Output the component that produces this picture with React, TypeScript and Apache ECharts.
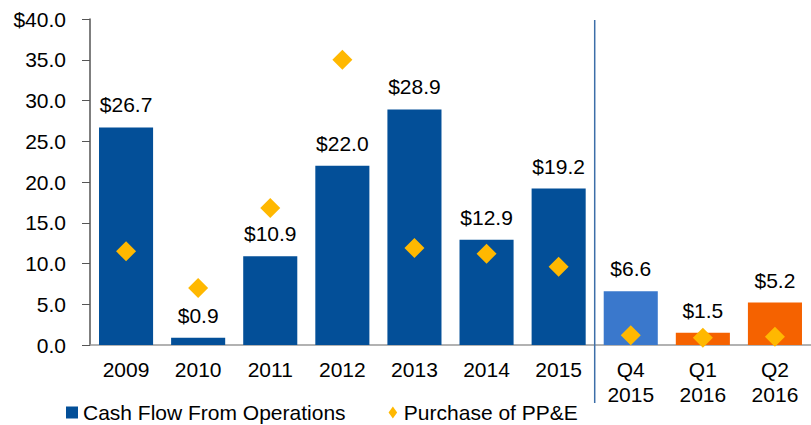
import React, { useEffect, useRef } from "react";
import * as echarts from "echarts";

const categories = ["2009", "2010", "2011", "2012", "2013", "2014", "2015", "Q4\n2015", "Q1\n2016", "Q2\n2016"];
const cashFlow = [26.7, 0.9, 10.9, 22.0, 28.9, 12.9, 19.2, 6.6, 1.5, 5.2];
const ppe = [11.5, 7.0, 16.8, 35.0, 11.9, 11.2, 9.6, 1.2, 0.9, 1.0];
const barColors = ["#034f98", "#034f98", "#034f98", "#034f98", "#034f98", "#034f98", "#034f98", "#3a78cc", "#f56200", "#f56200"];
const yTicks = { min: 0, max: 40, interval: 5 };

const FONT = "'Liberation Sans', Arial, sans-serif";
const FS = 21;

export default function App() {
  const ref = useRef<HTMLDivElement>(null);
  useEffect(() => {
    if (!ref.current) return;
    const chart = echarts.init(ref.current, null, { renderer: "svg" });
    chart.setOption({
      animation: false,
      textStyle: { fontFamily: FONT },
      grid: { left: 90, right: 0, top: 19, bottom: 80, containLabel: false },
      legend: {
        left: 66,
        top: 402,
        padding: 0,
        itemGap: 43,
        itemWidth: 12,
        itemHeight: 12,
        textStyle: { fontFamily: FONT, fontSize: FS, color: "#000" },
        data: [
          { name: "Cash Flow From Operations", icon: "rect", itemStyle: { color: "#034f98" } },
          { name: "Purchase of PP&E", icon: "path://M5,0L10,7L5,14L0,7Z", itemStyle: { color: "#ffb800" } },
        ],
      },
      xAxis: {
        type: "category",
        data: categories,
        axisLine: { lineStyle: { color: "#999", width: 1.5 } },
        axisTick: { show: false },
        axisLabel: {
          color: "#000",
          fontFamily: FONT,
          fontSize: FS,
          lineHeight: 25,
          margin: 12,
          verticalAlign: "top",
          interval: 0,
        },
      },
      yAxis: {
        type: "value",
        min: yTicks.min,
        max: yTicks.max,
        interval: yTicks.interval,
        splitLine: { show: false },
        axisLine: { show: true, lineStyle: { color: "#555", width: 1.5 } },
        axisTick: { show: true, length: 8, lineStyle: { color: "#555" } },
        axisLabel: {
          color: "#000",
          fontFamily: FONT,
          fontSize: FS,
          margin: 24,
          formatter: (v: number) => (v === yTicks.max ? "$" + v.toFixed(1) : v.toFixed(1)),
        },
      },
      series: [
        {
          name: "Cash Flow From Operations",
          type: "bar",
          barWidth: "75%",
          data: cashFlow.map((v, i) => ({ value: v, itemStyle: { color: barColors[i] } })),
          label: {
            show: true,
            position: "top",
            distance: 12,
            color: "#000",
            fontFamily: FONT,
            fontSize: FS,
            formatter: (p: any) => "$" + Number(p.value).toFixed(1),
          },
          itemStyle: { color: "#034f98" },
        },
        {
          name: "Purchase of PP&E",
          type: "scatter",
          symbol: "diamond",
          symbolSize: 20,
          data: ppe,
          itemStyle: { color: "#ffb800", opacity: 1 },
          z: 3,
        },
      ],
    });
    const x6 = chart.convertToPixel({ xAxisIndex: 0 }, 6) as number;
    const x7 = chart.convertToPixel({ xAxisIndex: 0 }, 7) as number;
    const yTop = chart.convertToPixel({ yAxisIndex: 0 }, yTicks.max) as number;
    const xs = (x6 + x7) / 2;
    chart.setOption({
      graphic: [
        {
          type: "line",
          shape: { x1: xs, y1: yTop + 1, x2: xs, y2: 403 },
          style: { stroke: "#3c6ea8", lineWidth: 1.5 },
          z: 10,
        },
      ],
    });
    return () => chart.dispose();
  }, []);
  return <div ref={ref} style={{ width: 811, height: 425, position: "absolute", left: 0, top: 0 }} />;
}
